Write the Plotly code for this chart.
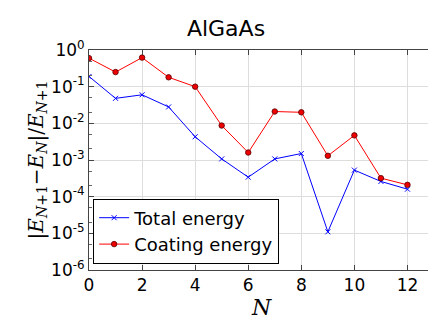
import plotly.graph_objects as go

n_vals = list(range(13))
total_energy = [0.19, 0.048, 0.06, 0.028, 0.0043, 0.00107, 3.4e-4, 1.07e-3, 1.5e-3, 1.1e-5, 5.3e-4, 2.6e-4, 1.6e-4]
coating_energy = [0.6, 0.25, 0.62, 0.18, 0.1, 0.0087, 0.0016, 0.021, 0.020, 0.0013, 0.0047, 3.2e-4, 2.1e-4]

y_tickvals = [1e-6, 1e-5, 1e-4, 1e-3, 1e-2, 1e-1, 1]
y_ticktext = ["10<sup>-6</sup>", "10<sup>-5</sup>", "10<sup>-4</sup>", "10<sup>-3</sup>",
              "10<sup>-2</sup>", "10<sup>-1</sup>", "10<sup>0</sup>"]
x_tickvals = [0, 2, 4, 6, 8, 10, 12]

fig = go.Figure()
fig.add_trace(go.Scatter(x=n_vals, y=total_energy, mode="lines+markers", name="Total energy",
                         line=dict(color="#0000ff", width=1),
                         marker=dict(symbol="x-thin", size=5, line=dict(color="#0000ff", width=1))))
fig.add_trace(go.Scatter(x=n_vals, y=coating_energy, mode="lines+markers", name="Coating energy",
                         line=dict(color="#ff0000", width=1),
                         marker=dict(symbol="circle", size=5.5, color="#ee0000",
                                     line=dict(color="#550000", width=0.8))))

axis_common = dict(showline=True, linecolor="#444", linewidth=1, mirror="allticks",
                   ticks="inside", ticklen=5, tickcolor="#444",
                   showgrid=True, gridcolor="#dddddd", gridwidth=1, zeroline=False,
                   tickfont=dict(family="DejaVu Sans", size=17, color="black"))

fig.update_xaxes(range=[0, 13], tickvals=x_tickvals,
                 title=dict(text="<i>N</i>", font=dict(family="DejaVu Serif", size=22, color="black"), standoff=2),
                 **axis_common)
fig.update_yaxes(type="log", range=[-6, 0], tickvals=y_tickvals, ticktext=y_ticktext,
                 minor=dict(ticks="inside", ticklen=3, tickcolor="#666", showgrid=False),
                 title=dict(text="|<i>E</i><sub><i>N</i>+1</sub>−<i>E</i><sub><i>N</i></sub>|/<i>E</i><sub><i>N</i>+1</sub>",
                            font=dict(family="DejaVu Serif", size=20, color="black"), standoff=2),
                 **axis_common)

fig.update_layout(
    width=436, height=327,
    margin=dict(l=81, r=10, t=42, b=65),
    paper_bgcolor="white", plot_bgcolor="white",
    title=dict(text="AlGaAs", x=0.5, xanchor="center", y=0.96, yanchor="top",
               font=dict(family="DejaVu Sans", size=22, color="black")),
    legend=dict(x=0.012, y=0.325, xanchor="left", yanchor="top",
                bgcolor="white", bordercolor="black", borderwidth=1,
                font=dict(family="DejaVu Sans", size=18, color="black"),
                tracegroupgap=0),
    showlegend=True,
)

fig.write_html("out.html")
